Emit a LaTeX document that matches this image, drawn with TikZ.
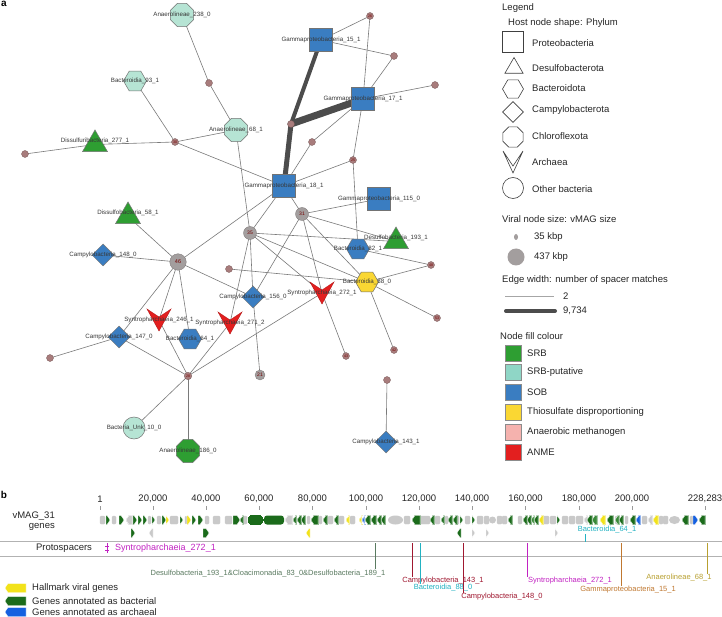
\documentclass[tikz,border=0pt]{standalone}
\usepackage{fontspec}
\setmainfont{Liberation Sans}
\usetikzlibrary{shapes.geometric,backgrounds}
\definecolor{srb}{HTML}{2E9E32}
\definecolor{srbp}{HTML}{8FD6C6}
\definecolor{srbpl}{HTML}{B6E4D4}
\definecolor{sob}{HTML}{3A7DC1}
\definecolor{thio}{HTML}{FAD733}
\definecolor{meth}{HTML}{F5B2AE}
\definecolor{anme}{HTML}{E31F1F}
\definecolor{vir}{HTML}{A87C7C}
\definecolor{virg}{HTML}{A39E9E}
\definecolor{edgec}{HTML}{7A7A7A}
\definecolor{gbac}{HTML}{1B6B1B}
\definecolor{gmid}{HTML}{3A8A3A}
\definecolor{gvir}{HTML}{F2E21A}
\definecolor{garc}{HTML}{1560E0}
\definecolor{ggray}{HTML}{C9C9C9}
\definecolor{pdsb}{HTML}{5A7A60}
\definecolor{pcam}{HTML}{A01830}
\definecolor{pbac}{HTML}{22B2C2}
\definecolor{psyn}{HTML}{C222C2}
\definecolor{pgam}{HTML}{C07830}
\definecolor{pana}{HTML}{B8A030}
\newcommand{\gR}[4]{\fill[#3,draw=white,line width=0.2pt] (#1,#4-4.5) -- (#2-3,#4-4.5) -- (#2,#4) -- (#2-3,#4+4.5) -- (#1,#4+4.5) -- cycle;}
\newcommand{\gL}[4]{\fill[#3,draw=white,line width=0.2pt] (#1,#4) -- (#1+3,#4-4.5) -- (#2,#4-4.5) -- (#2,#4+4.5) -- (#1+3,#4+4.5) -- cycle;}
\newcommand{\archpath}[2]{\path[#2] (#1.center) ++(-12,-11) -- ++(12,8) -- ++(12,-8) -- ++(-12,22) -- cycle;}
\begin{document}
\begin{tikzpicture}[x=1pt,y=-1pt,
  host/.style={draw=black!55,line width=0.5pt,inner sep=0},
  sq/.style={host,rectangle,minimum size=23pt},
  hexa/.style={host,regular polygon,regular polygon sides=6,minimum size=23pt},
  octa/.style={host,regular polygon,regular polygon sides=8,minimum size=25pt},
  tri/.style={host,regular polygon,regular polygon sides=3,minimum size=29pt},
  dia/.style={host,diamond,minimum width=22pt,minimum height=22pt},
  circ/.style={host,circle,minimum size=22pt},
  archn/.style={inner sep=0,minimum size=20pt},
  hl/.style={font=\fontsize{6.2}{7}\selectfont,text=black!78,inner sep=0},
  vnode/.style={circle,fill=vir,draw=vir!70!black,line width=0.3pt,minimum size=7pt,inner sep=0,font=\fontsize{3.6}{4}\selectfont,text=red!45!black},
  gnode/.style={vnode,fill=virg,draw=virg!75!black,font=\fontsize{5}{5}\selectfont},
  ed/.style={draw=edgec,line width=0.6pt},
  thk/.style={draw=black!70,line cap=round},
  lg/.style={font=\fontsize{9.5}{11}\selectfont,text=black!85,inner sep=0,anchor=west},
  lshape/.style={draw=black!75,line width=0.6pt,inner sep=0,fill=none},
  lsq/.style={inner sep=0,minimum size=16pt,draw=black!45,line width=0.4pt},
  pl/.style={font=\fontsize{7.5}{9}\selectfont,inner sep=0},
  pm/.style={line width=0.8pt}
]
\useasboundingbox (0,0) rectangle (722,617);
\node[font=\bfseries\fontsize{10}{10}\selectfont,anchor=north west,inner sep=0] (pa) at (1,1) {a};
% ---------- hosts ----------
\node[octa,fill=srbpl,label={[hl]center:Anaerolineae\_238\_0}] (a238) at (182,15) {};
\node[hexa,fill=srbpl,label={[hl]center:Bacteroidia\_93\_1}] (b93) at (135,81) {};
\node[octa,fill=srbpl,label={[hl]center:Anaerolineae\_68\_1}] (a68) at (236,130) {};
\node[tri,fill=srb,label={[hl,yshift=3.6pt]center:Dissulfuribacteria\_277\_1}] (d277) at (95,144.5) {};
\node[sq,fill=sob,label={[hl]center:Gammaproteobacteria\_15\_1}] (g15) at (321,40) {};
\node[sq,fill=sob,label={[hl]center:Gammaproteobacteria\_17\_1}] (g17) at (363,99) {};
\node[sq,fill=sob,label={[hl]center:Gammaproteobacteria\_18\_1}] (g18) at (284,186) {};
\node[sq,fill=sob,label={[hl]center:Gammaproteobacteria\_115\_0}] (g115) at (379,199) {};
\node[tri,fill=srb,label={[hl,yshift=3.6pt]center:Dissulfobacteria\_58\_1}] (d58) at (128,216.5) {};
\node[dia,fill=sob,label={[hl]center:Campylobacteria\_148\_0}] (c148) at (103,255) {};
\node[tri,fill=srb,label={[hl,yshift=3.6pt]center:Desulfobacteria\_193\_1}] (d193) at (396,241.5) {};
\node[hexa,fill=sob,label={[hl]center:Bacteroidia\_82\_1}] (b82) at (358,249) {};
\node[hexa,fill=thio,label={[hl]center:Bacteroidia\_88\_0}] (b88) at (367,282) {};
\node[dia,fill=sob,label={[hl]center:Campylobacteria\_156\_0}] (c156) at (253,297) {};
\node[dia,fill=sob,label={[hl]center:Campylobacteria\_147\_0}] (c147) at (119,337) {};
\node[hexa,fill=sob,label={[hl]center:Bacteroidia\_64\_1}] (b64) at (190,339) {};
\node[circ,fill=srbpl,label={[hl]center:Bacteria\_Unk\_10\_0}] (bu10) at (134,428) {};
\node[octa,fill=srb,label={[hl]center:Anaerolineae\_186\_0}] (a186) at (188,451) {};
\node[dia,fill=sob,label={[hl]center:Campylobacteria\_143\_1}] (c143) at (386,442) {};
\node[archn] (s272) at (322,293) {};
\node[archn] (s246) at (159,320) {};
\node[archn] (s271) at (230,323) {};
\archpath{s272}{fill=anme,draw=anme!80!black,line width=0.4pt}
\archpath{s246}{fill=anme,draw=anme!80!black,line width=0.4pt}
\archpath{s271}{fill=anme,draw=anme!80!black,line width=0.4pt}
\node[hl] (s272l) at (s272) {Syntropharchaeia\_272\_1};
\node[hl] (s246l) at (s246) {Syntropharchaeia\_246\_1};
\node[hl] (s271l) at (s271) {Syntropharchaeia\_271\_2};
% ---------- viral ----------
\node[vnode] (v1) at (209,83) {};
\node[vnode] (v2) at (175,142) {30};
\node[vnode] (v3) at (25,154) {};
\node[vnode] (v4) at (370,16) {26};
\node[vnode] (v5) at (394,56) {};
\node[vnode] (v6) at (435,85) {};
\node[vnode] (v7) at (291,124) {};
\node[vnode] (v8) at (312,142) {};
\node[vnode] (v9) at (353,160) {25};
\node[gnode,minimum size=13pt] (n31) at (302,214) {31};
\node[gnode,minimum size=13pt] (n35) at (250,233) {35};
\node[gnode,minimum size=16.5pt,font=\fontsize{5.5}{6}\selectfont,text=red!45!black] (n46) at (178,262) {46};
\node[vnode] (v10) at (229,269) {};
\node[vnode] (v11) at (431,265) {48};
\node[vnode] (v12) at (437,318) {53};
\node[vnode] (v13) at (394,350) {42};
\node[vnode] (v14) at (346,356) {43};
\node[gnode,minimum size=10pt] (n21) at (260,375) {21};
\node[vnode] (v15) at (387,380) {};
\node[vnode,minimum size=7.5pt] (n28) at (188,376) {28};
\node[vnode] (v16) at (50,358) {};
% ---------- edges ----------
\begin{scope}[on background layer]
\fill[white] (0,0) rectangle (722,617);
\foreach \p/\q in {a238/v1,v1/a68,b93/v2,v3/d277,d277/v2,v2/a68,v2/g18,a68/n35,g18/v8,v8/g17,g18/v9,v9/g17,v9/b82,g15/v4,g15/v5,v4/g17,v5/g17,g17/v6,g18/n31,g18/n35,n46/g18,g115/n31,n31/c156,n31/d193,n31/b88,n31/s272,s272/v14,n35/d193,n35/b88,n35/s272,n35/c156,n35/s271,n46/d58,n46/c148,n46/c156,n46/s246,n46/b64,n46/c147,c147/v16,c147/n28,n28/s246,n28/s271,n28/s272,n28/bu10,n28/a186,c156/n21,b82/v11,b88/v11,b88/v12,b88/v13,v15/c143,v10/b88}
  \draw[ed] (\p.center) -- (\q.center);
\draw[thk,line width=5pt] (g18.center) -- (v7.center);
\draw[thk,line width=4pt] (v7.center) -- (g15.center);
\draw[thk,line width=7pt] (v7.center) -- (g17.center);
\end{scope}
% ---------- legend ----------
\node[lg] (lt) at (502,8) {Legend};
\node[lg] (lh) at (508,23) {Host node shape: Phylum};
\node[lshape,rectangle,minimum size=21pt] (ls1) at (513,42) {};
\node[lshape,regular polygon,regular polygon sides=3,minimum size=21pt] (ls2) at (514,68) {};
\node[lshape,regular polygon,regular polygon sides=6,minimum size=21pt] (ls3) at (513,89) {};
\node[lshape,diamond,minimum width=21pt,minimum height=21pt] (ls4) at (513,112) {};
\node[lshape,regular polygon,regular polygon sides=8,minimum size=22pt] (ls5) at (513,137) {};
\node[archn] (ls6) at (513,162) {};
\draw[black!75,line width=0.6pt] (ls6.center) ++(-10,-11) -- ++(10,15) -- ++(10,-15) -- ++(-10,22) -- cycle;
\node[lshape,circle,minimum size=21pt] (ls7) at (513,188) {};
\node[lg] at (532,43) {Proteobacteria};
\node[lg] at (532,68) {Desulfobacterota};
\node[lg] at (532,88) {Bacteroidota};
\node[lg] at (532,110) {Campylobacterota};
\node[lg] at (532,136) {Chloroflexota};
\node[lg] at (532,162) {Archaea};
\node[lg] at (532,189) {Other bacteria};
\node[lg] at (502,219) {Viral node size: vMAG size};
\node[ellipse,fill=virg,inner sep=0,minimum width=4pt,minimum height=6pt] (lv1) at (516,237) {};
\node[circle,fill=virg,inner sep=0,minimum size=17pt] (lv2) at (516,257) {};
\node[lg] at (534,237) {35 kbp};
\node[lg] at (534,257) {437 kbp};
\node[lg] at (502,280) {Edge width: number of spacer matches};
\coordinate (le1a) at (505,296); \coordinate (le1b) at (554,296);
\coordinate (le2a) at (506,311); \coordinate (le2b) at (555,311);
\draw[black!35,line width=0.7pt] (le1a) -- (le1b);
\draw[black!70,line width=4pt,line cap=round] (le2a) -- (le2b);
\node[lg] at (563,296) {2};
\node[lg] at (563,311) {9,734};
\node[lg] at (500,336) {Node fill colour};
\node[lsq,fill=srb] (lc1) at (513,353.5) {};
\node[lsq,fill=srbp] (lc2) at (513,372.5) {};
\node[lsq,fill=sob] (lc3) at (513,392.5) {};
\node[lsq,fill=thio] (lc4) at (513,412.5) {};
\node[lsq,fill=meth] (lc5) at (513,432.5) {};
\node[lsq,fill=anme] (lc6) at (513,452.5) {};
\node[lg] at (527,353.5) {SRB};
\node[lg] at (527,372.5) {SRB-putative};
\node[lg] at (527,392.5) {SOB};
\node[lg] at (527,412.5) {Thiosulfate disproportioning};
\node[lg] at (527,432.5) {Anaerobic methanogen};
\node[lg] at (527,452.5) {ANME};
% ---------- panel b ----------
\node[font=\bfseries\fontsize{10}{10}\selectfont,inner sep=0] (pb) at (4,495) {b};
\foreach \x/\t in {100/1,153/{20,000},206/{40,000},259/{60,000},312.5/{80,000},366/{100,000},419/{120,000},472/{140,000},525.5/{160,000},579/{180,000},632/{200,000},705/{228,283}}{
  \node[lg,anchor=center,font=\fontsize{9.5}{10}\selectfont] at (\x,499) {\t};
  \draw[black!40,line width=0.4pt] (\x,506) -- (\x,510);
}
\node[lg,anchor=east] (vm) at (55,516) {vMAG\_31};
\node[lg,anchor=east] (vg) at (55,527) {genes};
% gene track
\foreach \a/\b in {100/105,112/116,148/151,157/161,170/178,185/187,205/209,213/220,225/232,243/247,307/310,319/322,328/333,339/344,350/355,404/410,420/430,435/440,445/448,458/459,465/470,477/483,484/489,497/502,502/507,518/522,543/549,550/556,562/568,569/575,576/583,615/618,625/628,642/647,659/663,663/668,690/693}
  \draw[ggray,fill=ggray,line width=0.2pt,rounded corners=1pt] (\a,516) rectangle (\b,524);
\foreach \a/\b/\c in {106/110/gbac,119/124/gbac,133/137/gbac,138/142/gbac,143/147/gbac,152/155/gbac,162/166/gbac,166/169/gvir,180/183/gbac,187/191/gvir,192/196/gbac,198/203/gbac,233/240/gbac,460/463/gbac,472/475/gbac,557/560/gbac,693/698/garc}
  \gR{\a}{\b}{\c}{520}
\foreach \a/\b/\c in {126/132/ggray,240/243/gbac,285/292/ggray,293/296/gbac,297/301/gbac,301/305/gbac,311/318/gbac,323/327/gbac,334/338/gbac,346/349/gvir,359/361/gvir,362/364/garc,365/370/gbac,371/376/gbac,377/381/gbac,381/385/gbac,412/420/gbac,430/434/gbac,441/444/gbac,448/452/gbac,453/457/gbac,508/512/gbac,523/527/gbac,527/531/gbac,531/534/gmid,534/538/gbac,539/543/gvir,584/587/ggray,587/592/gbac,592/597/gmid,600/605/gvir,607/613/gbac,615/619/gmid,619/623/gbac,630/635/gbac,636/640/garc,648/652/ggray,653/658/gvir,682/688/gbac,699/705/gbac}
  \gL{\a}{\b}{\c}{520}
\fill[gbac,rounded corners=4pt] (248,515.5) rectangle (263,524.5);
\fill[gbac,rounded corners=3pt] (264,515.5) rectangle (284,524.5);
\fill[ggray] (395.5,520) ellipse (7.5pt and 4.5pt);
\fill[ggray] (492.5,520) circle (3.5pt);
\fill[ggray] (674.5,520) ellipse (5.5pt and 4pt);
% second row
\gR{131}{135}{gbac}{533}
\gL{149}{153}{ggray}{533}
\gR{203}{209}{gbac}{533}
\gL{306}{310}{gvir}{533}
\gL{457}{461}{gbac}{533}
\gR{472}{475}{ggray}{533}
\gR{486}{489}{ggray}{533}
\gR{555}{558}{ggray}{533}
% protospacer area
\coordinate (hl1a) at (0,541); \coordinate (hl1b) at (722,541);
\coordinate (hl2a) at (0,556); \coordinate (hl2b) at (722,556);
\draw[black!30,line width=0.5pt] (hl1a) -- (hl1b);
\draw[black!30,line width=0.5pt] (hl2a) -- (hl2b);
\node[lg,anchor=center] (ps) at (64,548) {Protospacers};
\draw[psyn,line width=0.8pt] (107,543) -- (107,553);
\draw[psyn,line width=0.6pt] (105,546) -- (109,546) (105,550) -- (109,550);
\node[pl,font=\fontsize{9}{10}\selectfont,text=psyn,anchor=west] (sy1) at (115,548) {Syntropharchaeia\_272\_1};
\node[pl,text=pdsb] (pt1) at (268,574) {Desulfobacteria\_193\_1\&Cloacimonadia\_83\_0\&Desulfobacteria\_189\_1};
\node[pl,text=pcam] (pt2) at (443,581) {Campylobacteria\_143\_1};
\node[pl,text=pbac] (pt3) at (443,588) {Bacteroidia\_88\_0};
\node[pl,text=pcam] (pt4) at (502,597) {Campylobacteria\_148\_0};
\node[pl,text=psyn] (pt5) at (570,581) {Syntropharchaeia\_272\_1};
\node[pl,text=pgam] (pt6) at (628,590) {Gammaproteobacteria\_15\_1};
\node[pl,text=pana] (pt7) at (679,578) {Anaerolineae\_68\_1};
\node[pl,text=pbac] (pt8) at (607,530) {Bacteroidia\_64\_1};
\coordinate (m1) at (375,543); \coordinate (m1b) at (375,569);
\coordinate (m2) at (412,543); \coordinate (m2b) at (412,577);
\coordinate (m3) at (420,543); \coordinate (m3b) at (420,584);
\coordinate (m4) at (463,543); \coordinate (m4b) at (463,593);
\coordinate (m5) at (527,543); \coordinate (m5b) at (527,577);
\coordinate (m6) at (621,543); \coordinate (m6b) at (621,586);
\coordinate (m7) at (707,543); \coordinate (m7b) at (707,574);
\coordinate (m8) at (585,534); \coordinate (m8b) at (585,542);
\draw[pm,pdsb] (m1) -- (m1b);
\draw[pm,pcam] (m2) -- (m2b);
\draw[pm,pbac] (m3) -- (m3b);
\draw[pm,pcam] (m4) -- (m4b);
\draw[pm,psyn] (m5) -- (m5b);
\draw[pm,pgam] (m6) -- (m6b);
\draw[pm,pana] (m7) -- (m7b);
\draw[pm,pbac] (m8) -- (m8b);
% gene legend
\gL{5}{26}{gvir}{588}
\gL{5}{26}{gbac}{601}
\gL{5}{26}{garc}{612}
\node[lg] at (32,588) {Hallmark viral genes};
\node[lg] at (32,601) {Genes annotated as bacterial};
\node[lg] at (32,612) {Genes annotated as archaeal};
\end{tikzpicture}
\end{document}
